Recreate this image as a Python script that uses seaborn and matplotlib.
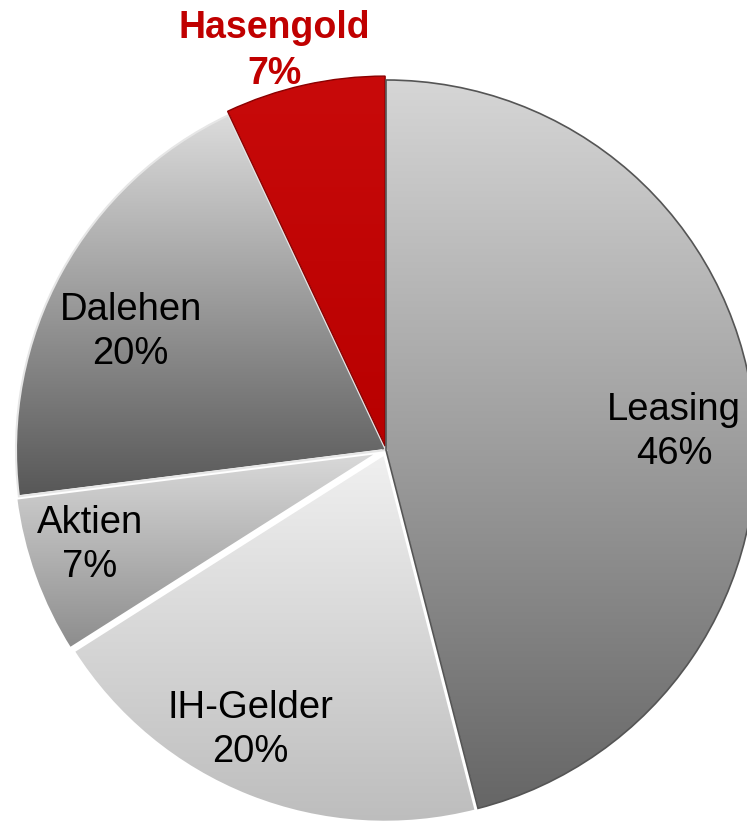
import numpy as np
import seaborn as sns
import matplotlib.pyplot as plt

# Data (clockwise from 12 o'clock)
categories = ['Leasing', 'IH-Gelder', 'Aktien', 'Dalehen', 'Hasengold']
shares = [46, 20, 7, 20, 7]
pct_labels = ['46%', '20%', '7%', '20%', '7%']

# Style per wedge: vertical gradient top colour -> bottom colour
grad_top = ['#d6d6d6', '#f0f0f0', '#dadada', '#dcdcdc', '#c80a0a']
grad_bottom = ['#666666', '#bdbdbd', '#8c8c8c', '#575757', '#b80000']
edge_colors = ['#555555', 'white', 'white', '#e6e6e6', '#8a0000']
edge_widths = [1.2, 3, 3, 1.5, 1.0]
wedge_order = [3, 1, 1, 1, 2]
explode = [0, 3, 4, 0, 4]
label_dist = [0.78, 0.84, 0.84, 0.76, 1.12]
label_turn = [3.6, 4.3, 2.0, -4.0, -3.0]

sns.set_style('white')
plt.rcParams['font.family'] = ['Liberation Sans', 'DejaVu Sans']

W, H = 747, 825
cx, cy, R = 386, H - 450, 370

fig = plt.figure(figsize=(W / 100, H / 100), dpi=100)
ax = fig.add_axes([0, 0, 1, 1])

wedges, _ = ax.pie(shares, radius=R, center=(cx, cy), startangle=90,
                   counterclock=False, explode=explode)

# Gradient fill clipped to each wedge
grad = np.linspace(0, 1, 256).reshape(-1, 1)
for i, w in enumerate(wedges):
    ext = w.get_path().get_extents()
    cmap = sns.blend_palette([grad_bottom[i], grad_top[i]], as_cmap=True)
    im = ax.imshow(grad, cmap=cmap, origin='lower', aspect='auto',
                   extent=[ext.x0, ext.x1, ext.y0, ext.y1], zorder=0.5,
                   interpolation='bilinear')
    im.set_clip_path(w)
    w.set_facecolor('none')
    w.set_edgecolor(edge_colors[i])
    w.set_linewidth(edge_widths[i])
    w.set_zorder(wedge_order[i])

# Labels
total = sum(shares)
start = 0.0
for i, (cat, pct, val) in enumerate(zip(categories, pct_labels, shares)):
    mid = np.deg2rad((start + val / 2) / total * 360 + label_turn[i])
    start += val
    x = cx + label_dist[i] * R * np.sin(mid)
    y = cy + label_dist[i] * R * np.cos(mid)
    if cat == 'Hasengold':
        ax.text(x, y, cat + '\n' + pct, ha='center', va='center', fontsize=27,
                fontweight='bold', color='#c00000', linespacing=1.36, zorder=5)
    else:
        ax.text(x, y, cat + '\n' + pct, ha='center', va='center', fontsize=27.5,
                color='black', linespacing=1.28, zorder=5)

ax.set_xlim(0, W)
ax.set_ylim(0, H)
ax.set_aspect('equal')
ax.axis('off')

fig.savefig('out.png', dpi=100)
